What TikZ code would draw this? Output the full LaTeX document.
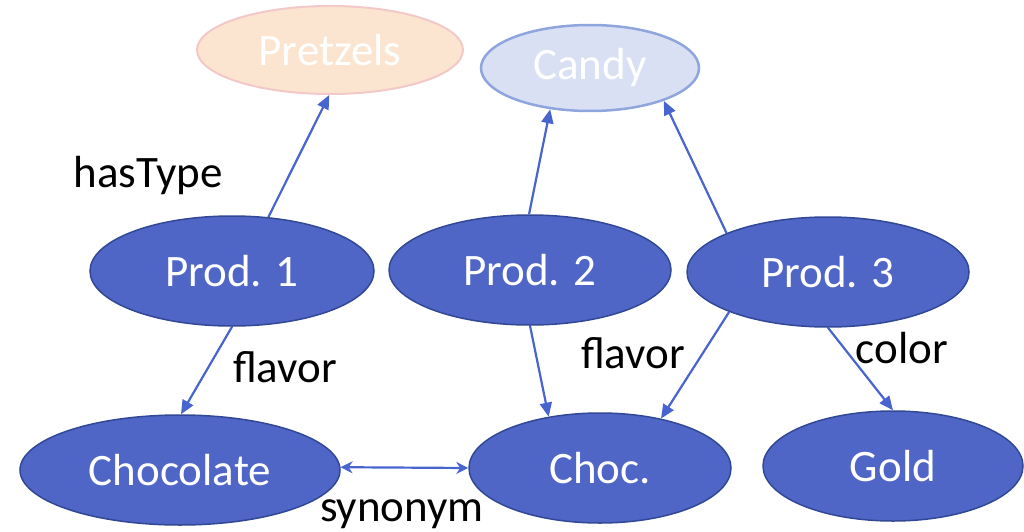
\documentclass[tikz,border=0pt]{standalone}
\usepackage{fontspec}
\setmainfont{Carlito}
\usetikzlibrary{shapes.geometric,arrows.meta}
\definecolor{nodefill}{RGB}{79,102,199}
\definecolor{nodeborder}{RGB}{50,72,150}
\definecolor{edgecol}{RGB}{72,100,206}
\definecolor{pretfill}{RGB}{251,229,208}
\definecolor{pretborder}{RGB}{243,200,200}
\definecolor{candfill}{RGB}{218,224,243}
\definecolor{candborder}{RGB}{143,165,221}
\begin{document}
\begin{tikzpicture}[x=1pt,y=-1pt,
  base/.style={ellipse,inner sep=0pt,font=\fontsize{45}{54}\selectfont,text=white},
  mainnode/.style={base,fill=nodefill,draw=nodeborder,line width=1.5pt},
  edge/.style={draw=edgecol,line width=2.2pt,-{Triangle[length=14pt,width=12pt]}},
  twoway/.style={draw=edgecol,line width=2.2pt,{Stealth[length=12pt,width=12pt]}-{Stealth[length=12pt,width=12pt]}},
  lbl/.style={font=\fontsize{45}{54}\selectfont,anchor=base,inner sep=0pt}]
\path[use as bounding box] (0,0) rectangle (1024,532);

\node[base,fill=pretfill,draw=pretborder,line width=2pt,minimum width=266pt,minimum height=88pt] (pre) at (330,50) {Pretzels};
\node[base,fill=candfill,draw=candborder,line width=2.5pt,minimum width=218pt,minimum height=86pt] (can) at (590,68) {Candy};

\node[mainnode,minimum width=284pt,minimum height=110pt] (p1) at (232,271) {Prod. 1};
\node[mainnode,minimum width=282pt,minimum height=110pt] (p2) at (530,270) {Prod. 2};
\node[mainnode,minimum width=282pt,minimum height=110pt] (p3) at (828,272) {Prod. 3};

\node[mainnode,minimum width=320pt,minimum height=110pt] (choc1) at (180,470) {Chocolate};
\node[mainnode,minimum width=262pt,minimum height=110pt] (choc2) at (600,468) {Choc.};
\node[mainnode,minimum width=260pt,minimum height=110pt] (gold) at (893,466) {Gold};

\draw[edge] (p1.56) -- (pre.269);
\draw[edge] (p2.91) -- (can.226);
\draw[edge] (p3.159) -- (can.336);
\draw[edge] (p1.270) -- (choc1.89);
\draw[edge] (p2.270) -- (choc2.135);
\draw[edge] (p3.202) -- (choc2.39);
\draw[edge] (p3.270) -- (gold.90);
\draw[twoway] (choc1.1) -- (choc2.180);

\node[lbl] (lhas) at (148,187) {hasType};
\node[lbl] (lfl1) at (285,382) {flavor};
\node[lbl] (lfl2) at (633,368) {flavor};
\node[lbl] (lcol) at (902,363) {color};
\node[lbl] (lsyn) at (402,521) {synonym};
\end{tikzpicture}
\end{document}
